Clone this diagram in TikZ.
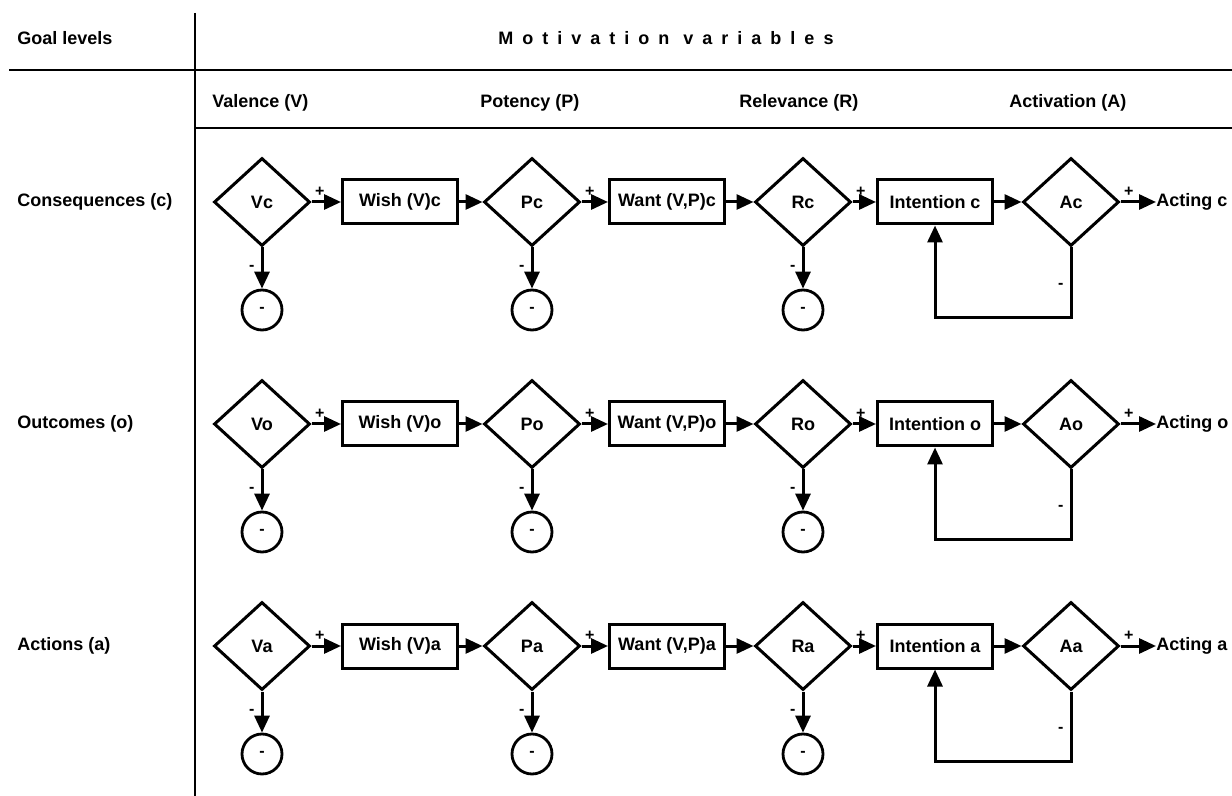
\documentclass[tikz,border=0pt]{standalone}
\usepackage{fontspec}
\setmainfont{Liberation Sans}
\newfontfamily\spacedfont[LetterSpace=50]{Liberation Sans}
\usetikzlibrary{shapes.geometric,arrows.meta}

\begin{document}
\begin{tikzpicture}[x=0.5pt,y=-0.5pt,font=\bfseries\fontsize{9}{11}\selectfont,
  gate/.style={draw,diamond,line width=1.5pt,inner sep=0pt,minimum width=48pt,minimum height=44pt},
  stage/.style={draw,rectangle,line width=1.5pt,inner sep=1pt,minimum width=57.5pt,minimum height=22pt},
  sink/.style={draw,circle,line width=1.4pt,inner sep=0pt,minimum size=20pt,font=\bfseries\fontsize{8}{9}\selectfont},
  flow/.style={-{Triangle[length=8.5pt,width=7.5pt]},line width=1.5pt},
  sign/.style={font=\bfseries\fontsize{8}{9}\selectfont,inner sep=0pt},
  plus/.style={sign,pos=0,anchor=south west,xshift=1pt,yshift=2pt},
  txt/.style={anchor=west,inner sep=0pt},
  rule/.style={line width=1.4pt}]
\useasboundingbox (0,0) rectangle (1232,796);

%Table
\draw[rule] (195,13) -- (195,796);
\draw[rule] (9,70) -- (1232,70);
\draw[rule] (195,128) -- (1232,128);
\node[txt] (goal) at (17,38) {Goal levels};
\node (motiv) at (666,38) {\spacedfont Motivation variables};
\node[txt] (valence) at (212,103) {Valence (V)};
\node[txt] (potency) at (480,103) {Potency (P)};
\node[txt] (relevance) at (739,103) {Relevance (R)};
\node[txt] (activation) at (1009,103) {Activation (A)};

%Consequences
\begin{scope}
\node[txt] (levc) at (17,202) {Consequences (c)};
\node[gate] (Vc) at (262,202) {Vc};
\node[stage] (wishc) at (400,202) {Wish (V)c};
\node[gate] (Pc) at (532,202) {Pc};
\node[stage] (wantc) at (667,202) {Want (V,P)c};
\node[gate] (Rc) at (803,202) {Rc};
\node[stage] (intc) at (935,202) {Intention c};
\node[gate] (Ac) at (1071,202) {Ac};
\node[txt] (actc) at (1156,202) {Acting c};
\node[sink] (Vcn) at (262,310) {-};
\node[sink] (Pcn) at (532,310) {-};
\node[sink] (Rcn) at (803,310) {-};
\draw[flow] (Vc.east) -- (wishc.west) node[plus] {+};
\draw[flow] (wishc.east) -- (Pc.west);
\draw[flow] (Pc.east) -- (wantc.west) node[plus] {+};
\draw[flow] (wantc.east) -- (Rc.west);
\draw[flow] (Rc.east) -- (intc.west) node[plus] {+};
\draw[flow] (intc.east) -- (Ac.west);
\draw[flow] (Ac.east) -- (actc.west) node[plus] {+};
\draw[flow] (Vc.south) -- node[sign,left=3pt] {-} (Vcn.north);
\draw[flow] (Pc.south) -- node[sign,left=3pt] {-} (Pcn.north);
\draw[flow] (Rc.south) -- node[sign,left=3pt] {-} (Rcn.north);
\draw[flow] (Ac.south) -- node[sign,left=3pt,pos=0.55] {-} ++(0,70) -| (intc.south);
\end{scope}

%Outcomes
\begin{scope}
\node[txt] (levo) at (17,424) {Outcomes (o)};
\node[gate] (Vo) at (262,424) {Vo};
\node[stage] (wisho) at (400,424) {Wish (V)o};
\node[gate] (Po) at (532,424) {Po};
\node[stage] (wanto) at (667,424) {Want (V,P)o};
\node[gate] (Ro) at (803,424) {Ro};
\node[stage] (into) at (935,424) {Intention o};
\node[gate] (Ao) at (1071,424) {Ao};
\node[txt] (acto) at (1156,424) {Acting o};
\node[sink] (Von) at (262,532) {-};
\node[sink] (Pon) at (532,532) {-};
\node[sink] (Ron) at (803,532) {-};
\draw[flow] (Vo.east) -- (wisho.west) node[plus] {+};
\draw[flow] (wisho.east) -- (Po.west);
\draw[flow] (Po.east) -- (wanto.west) node[plus] {+};
\draw[flow] (wanto.east) -- (Ro.west);
\draw[flow] (Ro.east) -- (into.west) node[plus] {+};
\draw[flow] (into.east) -- (Ao.west);
\draw[flow] (Ao.east) -- (acto.west) node[plus] {+};
\draw[flow] (Vo.south) -- node[sign,left=3pt] {-} (Von.north);
\draw[flow] (Po.south) -- node[sign,left=3pt] {-} (Pon.north);
\draw[flow] (Ro.south) -- node[sign,left=3pt] {-} (Ron.north);
\draw[flow] (Ao.south) -- node[sign,left=3pt,pos=0.55] {-} ++(0,70) -| (into.south);
\end{scope}

%Actions
\begin{scope}
\node[txt] (leva) at (17,646) {Actions (a)};
\node[gate] (Va) at (262,646) {Va};
\node[stage] (wisha) at (400,646) {Wish (V)a};
\node[gate] (Pa) at (532,646) {Pa};
\node[stage] (wanta) at (667,646) {Want (V,P)a};
\node[gate] (Ra) at (803,646) {Ra};
\node[stage] (inta) at (935,646) {Intention a};
\node[gate] (Aa) at (1071,646) {Aa};
\node[txt] (acta) at (1156,646) {Acting a};
\node[sink] (Van) at (262,754) {-};
\node[sink] (Pan) at (532,754) {-};
\node[sink] (Ran) at (803,754) {-};
\draw[flow] (Va.east) -- (wisha.west) node[plus] {+};
\draw[flow] (wisha.east) -- (Pa.west);
\draw[flow] (Pa.east) -- (wanta.west) node[plus] {+};
\draw[flow] (wanta.east) -- (Ra.west);
\draw[flow] (Ra.east) -- (inta.west) node[plus] {+};
\draw[flow] (inta.east) -- (Aa.west);
\draw[flow] (Aa.east) -- (acta.west) node[plus] {+};
\draw[flow] (Va.south) -- node[sign,left=3pt] {-} (Van.north);
\draw[flow] (Pa.south) -- node[sign,left=3pt] {-} (Pan.north);
\draw[flow] (Ra.south) -- node[sign,left=3pt] {-} (Ran.north);
\draw[flow] (Aa.south) -- node[sign,left=3pt,pos=0.55] {-} ++(0,70) -| (inta.south);
\end{scope}

\end{tikzpicture}
\end{document}
